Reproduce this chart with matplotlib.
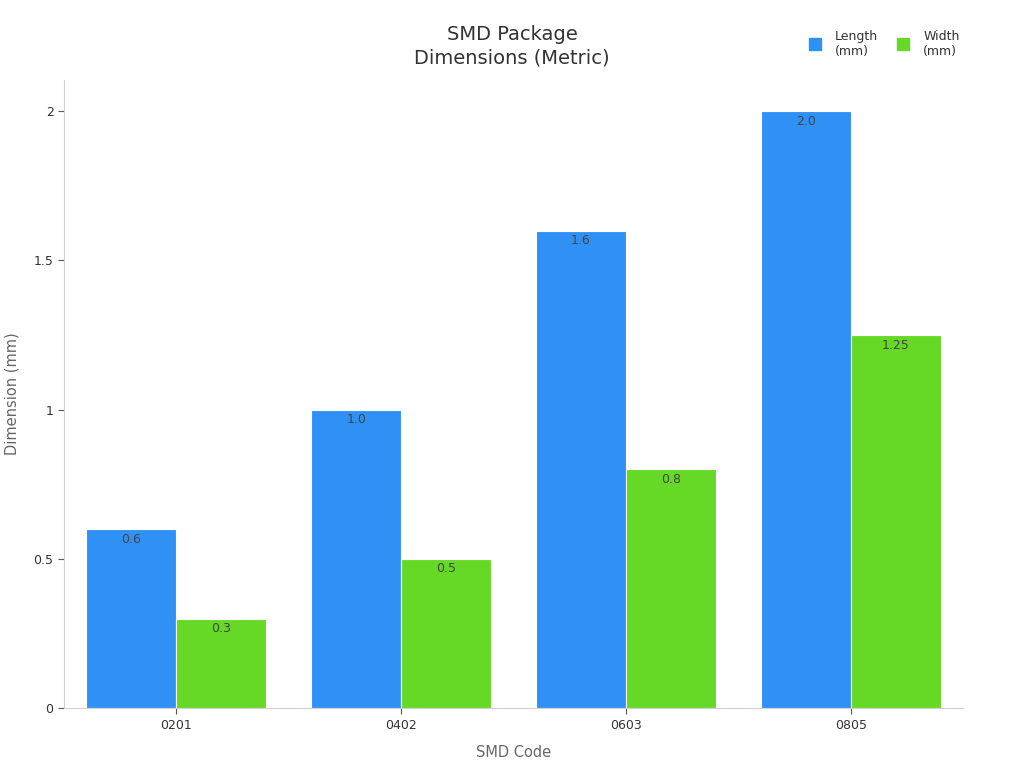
import matplotlib
matplotlib.use("Agg")
import matplotlib.pyplot as plt
import numpy as np
from matplotlib.lines import Line2D

plt.rcParams["font.family"] = ["DejaVu Sans"]

categories = ["0201", "0402", "0603", "0805"]
length_mm = [0.6, 1.0, 1.6, 2.0]
width_mm = [0.3, 0.5, 0.8, 1.25]
length_labels = ["0.6", "1.0", "1.6", "2.0"]
width_labels = ["0.3", "0.5", "0.8", "1.25"]
yticks = [0, 0.5, 1, 1.5, 2]
ytick_labels = ["0", "0.5", "1", "1.5", "2"]

blue = "#2F91F6"
green = "#66D926"

fig = plt.figure(figsize=(10.24, 7.68), dpi=100)
ax = fig.add_axes([0.0625, 0.078, 0.878, 0.818])

x = np.arange(len(categories))
w = 0.4
b1 = ax.bar(x - w/2, length_mm, w, color=blue, edgecolor="white", linewidth=0.8)
b2 = ax.bar(x + w/2, width_mm, w, color=green, edgecolor="white", linewidth=0.8)

for bars, labels in ((b1, length_labels), (b2, width_labels)):
    for r, lab in zip(bars, labels):
        ax.annotate(lab, (r.get_x() + r.get_width()/2, r.get_height()),
                    xytext=(0, -2.5), textcoords="offset points",
                    ha="center", va="top", fontsize=9, color="#444444")

ax.set_xlim(-0.5, 3.5)
ax.set_ylim(0, 2.105)
ax.set_xticks(x)
ax.set_xticklabels(categories)
ax.set_yticks(yticks)
ax.set_yticklabels(ytick_labels)
ax.tick_params(axis="both", labelsize=9, colors="#555555", labelcolor="#333333", length=4)
for s in ("top", "right"):
    ax.spines[s].set_visible(False)
for s in ("left", "bottom"):
    ax.spines[s].set_color("#d0d0d0")
ax.set_xlabel("SMD Code", fontsize=10.5, color="#666666", labelpad=10)
ax.set_ylabel("Dimension (mm)", fontsize=10.5, color="#666666", labelpad=10)

fig.text(0.5, 0.94, "SMD Package\nDimensions (Metric)", ha="center", va="center",
         fontsize=14, color="#333333", linespacing=1.3)

handles = [Line2D([], [], marker="s", linestyle="", markersize=9, color=blue),
           Line2D([], [], marker="s", linestyle="", markersize=9, color=green)]
fig.legend(handles, ["Length\n(mm)", "Width\n(mm)"], loc="center right",
           bbox_to_anchor=(0.948, 0.943), ncol=2, frameon=False, fontsize=9,
           handletextpad=0.6, columnspacing=1.0, labelcolor="#333333")

fig.savefig("out.png", dpi=100)
